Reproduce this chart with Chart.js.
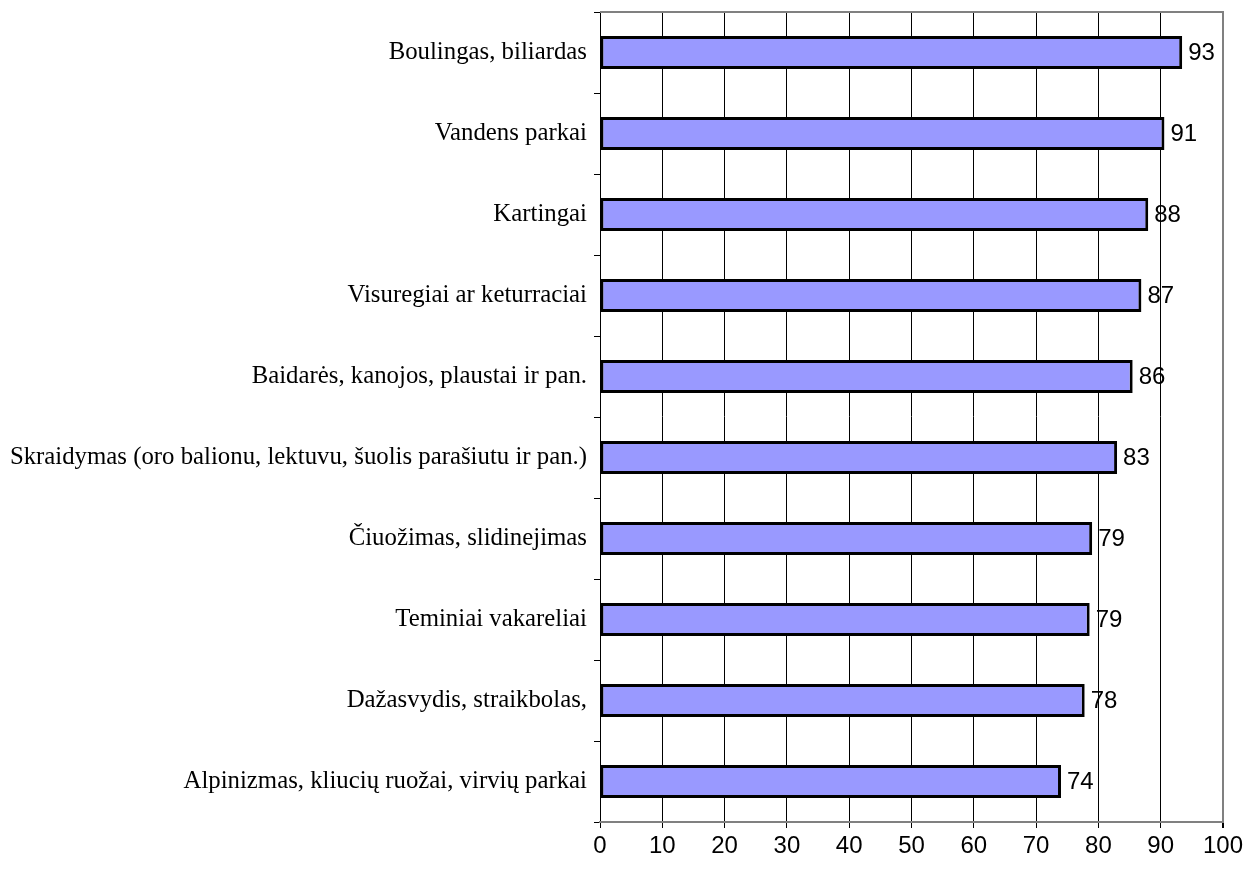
<!DOCTYPE html>
<html>
<head>
<meta charset="utf-8">
<script src="https://cdn.jsdelivr.net/npm/chart.js@4/dist/chart.umd.min.js"></script>
<style>
  html, body { margin: 0; padding: 0; background: #ffffff; }
  #wrap { width: 1260px; height: 871px; position: relative; }
</style>
</head>
<body>
<div id="wrap"><canvas id="chart" width="1260" height="871"></canvas></div>
<script>
// Activities and their scores (percent)
const categories = [
  "Boulingas, biliardas",
  "Vandens parkai",
  "Kartingai",
  "Visuregiai ar keturraciai",
  "Baidarės, kanojos, plaustai ir pan.",
  "Skraidymas (oro balionu, lektuvu, šuolis parašiutu ir pan.)",
  "Čiuožimas, slidinejimas",
  "Teminiai vakareliai",
  "Dažasvydis, straikbolas,",
  "Alpinizmas, kliucių ruožai, virvių parkai"
];
const values = [93.45, 90.6, 88.0, 86.9, 85.5, 83.0, 79.0, 78.6, 77.8, 74.0];
const xTicks = [0, 10, 20, 30, 40, 50, 60, 70, 80, 90, 100];

const SANS = '"Liberation Sans", Arial, sans-serif';
const SERIF = '"Liberation Serif", "Times New Roman", serif';

// Value labels to the right of each bar, rounded to whole numbers
const valueLabels = {
  id: 'valueLabels',
  afterDatasetsDraw(chart) {
    const ctx = chart.ctx;
    const meta = chart.getDatasetMeta(0);
    ctx.save();
    ctx.font = '24px ' + SANS;
    ctx.fillStyle = '#000000';
    ctx.textAlign = 'left';
    ctx.textBaseline = 'middle';
    meta.data.forEach((bar, i) => {
      ctx.fillText(Math.round(values[i]).toString(), bar.x + 6, bar.y + 1);
    });
    ctx.restore();
  }
};

// Gray frame along the top and right of the plot area
const plotFrame = {
  id: 'plotFrame',
  beforeDatasetsDraw(chart) {
    const a = chart.chartArea;
    const ctx = chart.ctx;
    ctx.save();
    ctx.strokeStyle = '#808080';
    ctx.lineWidth = 2;
    ctx.beginPath();
    ctx.moveTo(a.left, a.top);
    ctx.lineTo(a.right, a.top);
    ctx.lineTo(a.right, a.bottom);
    ctx.stroke();
    ctx.restore();
  }
};

new Chart(document.getElementById('chart'), {
  type: 'bar',
  data: {
    labels: categories,
    datasets: [{
      data: values,
      backgroundColor: '#9999FF',
      borderColor: '#000000',
      borderWidth: 3,
      borderSkipped: false,
      categoryPercentage: 1.0,
      barPercentage: 0.405
    }]
  },
  options: {
    indexAxis: 'y',
    responsive: false,
    animation: false,
    devicePixelRatio: 1,
    layout: { padding: { top: 12, right: 37, bottom: 0, left: 0 } },
    plugins: {
      legend: { display: false },
      tooltip: { enabled: false }
    },
    scales: {
      y: {
        type: 'category',
        offset: true,
        grid: {
          offset: true,
          drawOnChartArea: false,
          drawTicks: true,
          tickLength: 6,
          color: '#000000',
          lineWidth: 1
        },
        border: { display: true, color: '#000000', width: 1 },
        ticks: {
          color: '#000000',
          padding: 7,
          font: { family: SERIF, size: 24.8 }
        },
        afterFit(scale) {
          scale.width = 600;
          scale.paddingTop = 0;
          scale.paddingBottom = 0;
        }
      },
      x: {
        type: 'linear',
        min: 0,
        max: 100,
        afterBuildTicks(scale) { scale.ticks = xTicks.map(v => ({ value: v })); },
        grid: {
          color: ctx => (ctx.tick && ctx.tick.value === 100) ? '#808080' : '#000000',
          lineWidth: ctx => (ctx.tick && ctx.tick.value === 100) ? 2 : 1,
          drawTicks: true,
          tickLength: 6,
          tickColor: '#000000'
        },
        border: { display: true, color: '#808080', width: 2 },
        ticks: {
          color: '#000000',
          padding: 4,
          maxRotation: 0,
          font: { family: SANS, size: 24 }
        },
        afterFit(scale) {
          scale.height = 49;
          scale.paddingLeft = 0;
          scale.paddingRight = 0;
        }
      }
    }
  },
  plugins: [plotFrame, valueLabels]
});
</script>
</body>
</html>
